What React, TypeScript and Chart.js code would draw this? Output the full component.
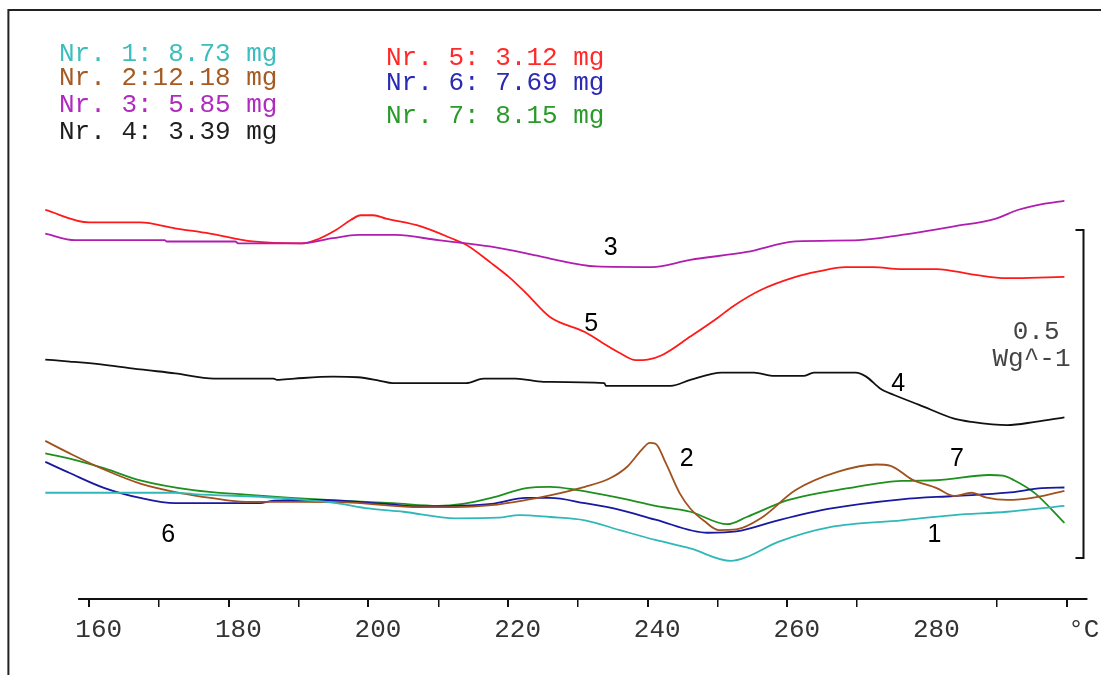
import React, { useEffect, useRef } from "react";
import { Chart, registerables } from "chart.js";

Chart.register(...registerables);

// ---- Data (temperature in °C, heat flow in W/g with arbitrary vertical offsets) ----
const s1Temp = [153.7, 172.3, 174.9, 187.4, 195.4, 200.0, 205.0, 212.5, 218.6, 221.6, 226.0, 231.0, 236.0, 241.1, 246.1, 251.9, 254.2, 258.7, 266.3, 276.4, 283.9, 291.5, 299.7];
const s1Flow = [0.162, 0.162, 0.160, 0.154, 0.146, 0.138, 0.133, 0.123, 0.124, 0.128, 0.125, 0.120, 0.105, 0.090, 0.077, 0.058, 0.064, 0.087, 0.110, 0.120, 0.128, 0.133, 0.142];

const s2Temp = [153.7, 157.2, 162.2, 167.3, 173.3, 177.4, 182.4, 189.9, 197.5, 207.5, 212.5, 217.6, 222.6, 226.0, 231.0, 234.6, 237.1, 239.1, 240.3, 241.1, 242.6, 244.6, 246.1, 248.2, 250.2, 252.7, 256.2, 261.2, 267.3, 272.8, 274.8, 277.9, 281.4, 283.9, 286.4, 288.4, 291.5, 295.5, 299.7];
const s2Flow = [0.241, 0.222, 0.197, 0.176, 0.161, 0.154, 0.148, 0.148, 0.147, 0.140, 0.140, 0.143, 0.151, 0.158, 0.171, 0.184, 0.202, 0.227, 0.238, 0.237, 0.207, 0.161, 0.138, 0.118, 0.105, 0.106, 0.123, 0.166, 0.194, 0.205, 0.203, 0.182, 0.169, 0.157, 0.162, 0.155, 0.151, 0.155, 0.165];

const s3Temp = [153.7, 158.0, 170.8, 171.1, 180.9, 181.4, 190.4, 194.9, 198.5, 203.9, 210.0, 214.0, 217.6, 222.6, 226.0, 232.6, 240.6, 246.1, 254.2, 261.2, 270.3, 276.4, 283.9, 289.9, 293.0, 296.5, 299.7];
const s3Flow = [0.557, 0.547, 0.547, 0.545, 0.545, 0.542, 0.542, 0.550, 0.555, 0.555, 0.547, 0.542, 0.537, 0.527, 0.519, 0.507, 0.506, 0.517, 0.529, 0.545, 0.547, 0.555, 0.568, 0.580, 0.593, 0.602, 0.607];

const s4Temp = [153.7, 157.2, 162.2, 167.3, 172.3, 177.9, 186.4, 186.9, 189.4, 194.9, 198.5, 201.5, 203.5, 214.0, 216.5, 221.1, 225.1, 233.8, 234.0, 243.3, 246.1, 250.6, 255.2, 258.2, 262.3, 263.8, 269.8, 271.3, 273.3, 275.3, 278.9, 283.9, 286.4, 291.5, 295.5, 299.7];
const s4Flow = [0.365, 0.362, 0.357, 0.350, 0.344, 0.336, 0.336, 0.334, 0.336, 0.339, 0.338, 0.333, 0.329, 0.329, 0.336, 0.336, 0.331, 0.329, 0.325, 0.325, 0.334, 0.345, 0.345, 0.340, 0.340, 0.345, 0.345, 0.339, 0.321, 0.311, 0.296, 0.275, 0.270, 0.265, 0.270, 0.277];

const s5Temp = [153.7, 160.0, 167.3, 172.3, 177.3, 183.4, 190.4, 192.4, 195.4, 197.5, 198.9, 200.7, 202.5, 207.5, 212.5, 214.0, 217.6, 220.1, 222.6, 226.0, 231.0, 233.6, 236.0, 238.3, 240.0, 242.1, 246.1, 250.2, 252.2, 256.2, 261.2, 264.3, 268.3, 272.3, 276.3, 281.4, 286.4, 291.5, 296.0, 299.7];
const s5Flow = [0.593, 0.574, 0.574, 0.565, 0.557, 0.545, 0.542, 0.547, 0.563, 0.578, 0.585, 0.585, 0.580, 0.568, 0.547, 0.540, 0.512, 0.491, 0.466, 0.430, 0.407, 0.390, 0.375, 0.364, 0.365, 0.372, 0.400, 0.430, 0.446, 0.471, 0.491, 0.499, 0.506, 0.506, 0.503, 0.503, 0.495, 0.489, 0.490, 0.491];

const s6Temp = [153.7, 157.2, 162.2, 167.3, 172.3, 184.4, 186.4, 192.4, 202.5, 207.5, 212.5, 217.6, 222.6, 226.0, 231.0, 236.0, 241.1, 248.6, 252.7, 258.7, 266.3, 276.4, 283.9, 291.5, 296.5, 299.7];
const s6Flow = [0.209, 0.192, 0.169, 0.154, 0.146, 0.146, 0.150, 0.151, 0.145, 0.141, 0.142, 0.145, 0.154, 0.154, 0.146, 0.136, 0.121, 0.101, 0.103, 0.120, 0.138, 0.152, 0.157, 0.162, 0.169, 0.170];

const s7Temp = [153.7, 157.2, 162.2, 167.3, 174.9, 182.4, 188.9, 197.5, 203.5, 210.0, 213.5, 217.6, 222.6, 226.0, 230.0, 236.0, 241.1, 246.1, 251.4, 254.2, 260.2, 268.8, 276.4, 281.4, 288.9, 290.9, 292.5, 295.5, 299.7];
const s7Flow = [0.222, 0.214, 0.199, 0.181, 0.166, 0.159, 0.154, 0.149, 0.146, 0.142, 0.145, 0.154, 0.169, 0.171, 0.166, 0.154, 0.142, 0.133, 0.114, 0.125, 0.151, 0.169, 0.180, 0.181, 0.189, 0.188, 0.181, 0.161, 0.116];

const sampleNumbers = ["1", "2", "3", "4", "5", "6", "7"];
const sampleMasses = [" 8.73", "12.18", " 5.85", " 3.39", " 3.12", " 7.69", " 8.15"];
const lineColors = ["#30B8B8", "#A0521E", "#B01EB0", "#111111", "#FF1A1A", "#1818A0", "#1E901E"];
const legendColors = ["#3DBDBD", "#A45A22", "#B02AC0", "#1E1E1E", "#FF2A2A", "#2A2AB4", "#2A9A2A"];

// curve number annotations (temperature, heat flow)
const curveLabelTemps = [281.1, 245.6, 234.7, 275.9, 231.9, 171.3, 284.3];
const curveLabelFlows = [0.101, 0.217, 0.538, 0.331, 0.4215, 0.101, 0.216];

const xTickValues = [160, 170, 180, 190, 200, 210, 220, 230, 240, 250, 260, 270, 280, 290, 300];
const xLabeledTicks = [160, 180, 200, 220, 240, 260, 280];
const xUnitLabel = " °C";
const hiddenTick = 280;

const scaleBarLow = 0.0625;
const scaleBarHigh = 0.5625;
const scaleBarTemp = 302.4;
const scaleBarValueText = "0.5";
const scaleBarUnitText = "Wg^-1";
const axisStartTemp = 158.4;
const axisEndTemp = 303;

const seriesTemps = [s1Temp, s2Temp, s3Temp, s4Temp, s5Temp, s6Temp, s7Temp];
const seriesFlows = [s1Flow, s2Flow, s3Flow, s4Flow, s5Flow, s6Flow, s7Flow];

const MONO = "'Liberation Mono', 'Courier New', monospace";
const SANS = "'Liberation Sans', Arial, sans-serif";

const decorPlugin = {
  id: "decor",
  afterDraw(chart: any) {
    const ctx = chart.ctx as CanvasRenderingContext2D;
    const xs = chart.scales.x;
    const ys = chart.scales.y;
    const area = chart.chartArea;
    ctx.save();

    // frame
    ctx.strokeStyle = "#222";
    ctx.lineWidth = 2;
    ctx.beginPath();
    ctx.moveTo(8.4, chart.height + 2);
    ctx.lineTo(8.4, 10);
    ctx.lineTo(chart.width + 2, 10);
    ctx.stroke();

    // x axis line
    ctx.strokeStyle = "#111";
    ctx.lineWidth = 2;
    ctx.beginPath();
    ctx.moveTo(xs.getPixelForValue(axisStartTemp), area.bottom);
    ctx.lineTo(xs.getPixelForValue(axisEndTemp), area.bottom);
    ctx.stroke();

    // scale bar bracket
    const bx = Math.round(xs.getPixelForValue(scaleBarTemp)) + 0.5;
    const by1 = Math.round(ys.getPixelForValue(scaleBarHigh));
    const by2 = Math.round(ys.getPixelForValue(scaleBarLow));
    ctx.lineWidth = 2;
    ctx.beginPath();
    ctx.moveTo(bx - 8, by1);
    ctx.lineTo(bx, by1);
    ctx.lineTo(bx, by2);
    ctx.lineTo(bx - 8, by2);
    ctx.stroke();

    ctx.fillStyle = "#444";
    ctx.font = `26px ${MONO}`;
    ctx.textAlign = "right";
    ctx.textBaseline = "alphabetic";
    ctx.fillText(scaleBarValueText, bx - 24, by1 + 109);
    ctx.fillText(scaleBarUnitText, bx - 13, by1 + 136);

    // legend
    const leftBase = [61, 85, 112, 139];
    const rightBase = [64.5, 90, 123];
    ctx.textAlign = "left";
    sampleNumbers.forEach((n, i) => {
      const text = `Nr. ${n}:${sampleMasses[i]} mg`;
      ctx.fillStyle = legendColors[i];
      if (i < 4) ctx.fillText(text, 59, leftBase[i]);
      else ctx.fillText(text, 386, rightBase[i - 4]);
    });

    // curve numbers
    ctx.fillStyle = "#000";
    ctx.font = `25px ${SANS}`;
    ctx.textAlign = "center";
    sampleNumbers.forEach((n, i) => {
      const px = xs.getPixelForValue(curveLabelTemps[i]);
      const py = ys.getPixelForValue(curveLabelFlows[i]);
      ctx.fillText(n, px, py + 9);
    });

    ctx.restore();
  },
};

export default function App() {
  const canvasRef = useRef<HTMLCanvasElement | null>(null);

  useEffect(() => {
    if (!canvasRef.current) return;
    const datasets = seriesTemps.map((temps, i) => ({
      label: `Nr. ${sampleNumbers[i]}`,
      data: temps.map((t, j) => ({ x: t, y: seriesFlows[i][j] })),
      borderColor: lineColors[i],
      backgroundColor: lineColors[i],
      borderWidth: 1.8,
      pointRadius: 0,
      fill: false,
      cubicInterpolationMode: "monotone" as const,
    }));

    const chart = new Chart(canvasRef.current, {
      type: "line",
      data: { datasets },
      options: {
        responsive: false,
        animation: false,
        devicePixelRatio: 1,
        layout: { padding: { left: 40.4, right: 34.5, top: 0, bottom: 0 } },
        plugins: {
          legend: { display: false },
          tooltip: { enabled: false },
        },
        scales: {
          x: {
            type: "linear",
            min: 153,
            max: 300,
            border: { display: false },
            grid: {
              drawOnChartArea: false,
              drawTicks: true,
              tickLength: 8,
              color: "#111",
              tickColor: (c: any) => (c.tick && c.tick.value === hiddenTick ? "rgba(0,0,0,0)" : "#111"),
              tickWidth: (c: any) => (c.tick && c.tick.value % 20 === 0 ? 2 : 1.5),
              lineWidth: (c: any) => (c.tick && c.tick.value % 20 === 0 ? 2 : 1.5),
            },
            afterBuildTicks: (scale: any) => {
              scale.ticks = xTickValues.map((v) => ({ value: v }));
            },
            afterFit: (scale: any) => {
              scale.height = 76;
            },
            ticks: {
              autoSkip: false,
              maxRotation: 0,
              minRotation: 0,
              padding: 8,
              labelOffset: 9.5,
              color: "#333",
              font: { family: MONO, size: 26 },
              callback: (value: any) => {
                const v = Number(value);
                if (v === 300) return xUnitLabel;
                return xLabeledTicks.includes(v) ? String(v) : "";
              },
            },
          },
          y: {
            type: "linear",
            display: false,
            min: 0,
            max: 0.9131,
          },
        },
      },
      plugins: [decorPlugin],
    });
    return () => chart.destroy();
  }, []);

  return (
    <div style={{ position: "absolute", left: 0, top: 0, width: 1101, height: 675, background: "#fff" }}>
      <canvas ref={canvasRef} width={1101} height={675} style={{ display: "block" }} />
    </div>
  );
}
